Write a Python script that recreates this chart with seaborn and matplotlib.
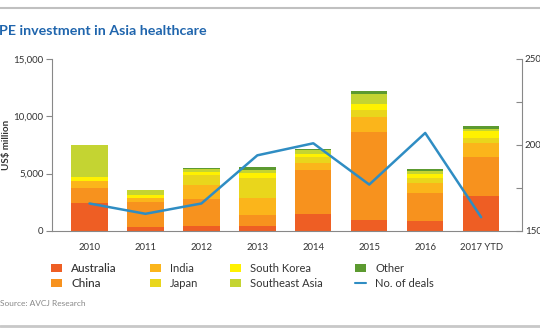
import numpy as np
import pandas as pd
import matplotlib
matplotlib.use("Agg")
import matplotlib.pyplot as plt
import seaborn as sns
from matplotlib.lines import Line2D
from matplotlib.patches import Patch
from matplotlib.ticker import FixedLocator, FuncFormatter

# PE investment by market (US$ million) and number of deals
years = ["2010", "2011", "2012", "2013", "2014", "2015", "2016", "2017 YTD"]
australia = [2410, 380, 440, 440, 1460, 960, 870, 3050]
china = [1310, 2180, 2320, 960, 3840, 7700, 2470, 3430]
india = [660, 290, 1250, 1450, 610, 1310, 810, 1160]
japan = [0, 0, 870, 1740, 550, 580, 440, 440]
south_korea = [350, 290, 290, 440, 290, 500, 350, 670]
southeast_asia = [2770, 440, 230, 290, 290, 870, 290, 170]
other = [0, 0, 70, 290, 150, 290, 170, 230]
deals = [166, 160, 166, 194, 201, 177, 207, 158]

series_names = ["Australia", "China", "India", "Japan",
                "South Korea", "Southeast Asia", "Other"]
series_values = [australia, china, india, japan,
                 south_korea, southeast_asia, other]
colors = ["#EE5E24", "#F7921E", "#FBB51B", "#E9D61C",
          "#FFF100", "#C4D432", "#5C9A30"]
line_color = "#2F8DC3"

df = pd.DataFrame(dict(zip(series_names, series_values)), index=years)
cum = df.cumsum(axis=1)

sns.set_style("white")
plt.rcParams["font.family"] = ["Lato", "DejaVu Sans"]

fig = plt.figure(figsize=(5.4, 3.34), dpi=100)
ax = fig.add_axes([52 / 540, 1 - 231 / 334, (522 - 52) / 540, (231 - 59) / 334])

# stacked bars: draw cumulative totals from the top layer down
for name, col in reversed(list(zip(series_names, colors))):
    sns.barplot(x=years, y=cum[name].values, color=col, width=0.65,
                saturation=1, ax=ax, linewidth=0, zorder=2)

ax.set_ylim(0, 15000)
ax.set_xlim(-0.67, 7.73)
ax.yaxis.set_major_locator(FixedLocator([0, 5000, 10000, 15000]))
ax.yaxis.set_major_formatter(FuncFormatter(lambda v, p: f"{int(v):,}"))
ax.set_xticks(range(len(years)))
ax.set_xticklabels(years)
ax.set_xticks(np.arange(-0.5, len(years), 1.0), minor=True)
ax.tick_params(axis="x", which="major", length=0, pad=9, labelsize=6.8,
               colors="#333333")
ax.tick_params(axis="x", which="minor", length=4, width=0.8, color="#888888",
               direction="out")
ax.tick_params(axis="y", which="major", length=4, width=0.8, color="#888888",
               direction="out", pad=2, labelsize=7, labelcolor="#333333")
ax.set_ylabel("US$ million", fontsize=7, fontweight="bold", color="#333333")
ax.yaxis.set_label_coords(-0.088, 0.5)
for s in ["top", "right"]:
    ax.spines[s].set_visible(False)
for s in ["left", "bottom"]:
    ax.spines[s].set_color("#888888")
    ax.spines[s].set_linewidth(0.8)

# number of deals on the secondary axis
ax2 = ax.twinx()
sns.lineplot(x=np.arange(len(years)), y=deals, color=line_color,
             linewidth=1.8, ax=ax2, sort=False, zorder=3)
ax2.set_ylim(150, 250)
ax2.set_xlim(-0.67, 7.73)
ax2.set_yticks([150, 200, 250])
ax2.set_yticks([175, 225], minor=True)
ax2.tick_params(axis="y", which="both", direction="in", length=4, width=0.8,
                color="#888888", pad=2, labelsize=7, labelcolor="#333333")
for s in ["top", "left", "bottom"]:
    ax2.spines[s].set_visible(False)
ax2.spines["right"].set_color("#888888")
ax2.spines["right"].set_linewidth(0.8)
ax2.set_ylabel("")

# title, source and frame lines
fig.text(-0.002, 1 - 31 / 334, "PE investment in Asia healthcare",
         fontsize=10.3, fontweight="bold", color="#1F65AD", va="center",
         ha="left")
fig.text(0.0, 1 - 303 / 334, "Source: AVCJ Research", fontsize=6,
         color="#888888", va="center", ha="left")
fig.add_artist(Line2D([0, 1], [1 - 8 / 334] * 2, color="#C0C0C0", lw=1.5))
fig.add_artist(Line2D([0, 1], [1 - 326 / 334] * 2, color="#C8C8C8", lw=2))

# legend: four columns of two entries each
handles = [Patch(facecolor=c, edgecolor="none") for c in colors]
handles.append(Line2D([], [], color=line_color, lw=1.5))
labels = series_names + ["No. of deals"]
col_x = [51, 150, 230, 355]
for i, x0 in enumerate(col_x):
    leg = fig.legend(handles[2 * i:2 * i + 2], labels[2 * i:2 * i + 2],
                     loc="upper left", bbox_to_anchor=(x0 / 540, 1 - 263 / 334),
                     frameon=False, fontsize=8, handlelength=1.0,
                     handleheight=0.7, handletextpad=0.8, labelspacing=0.35,
                     borderpad=0, borderaxespad=0)
    for t in leg.get_texts():
        t.set_color("#333333")
        if t.get_text() in ("Australia", "China"):
            t.set_fontsize(8.5)
            t.set_fontweight("medium")

fig.savefig("out.png", dpi=100)
